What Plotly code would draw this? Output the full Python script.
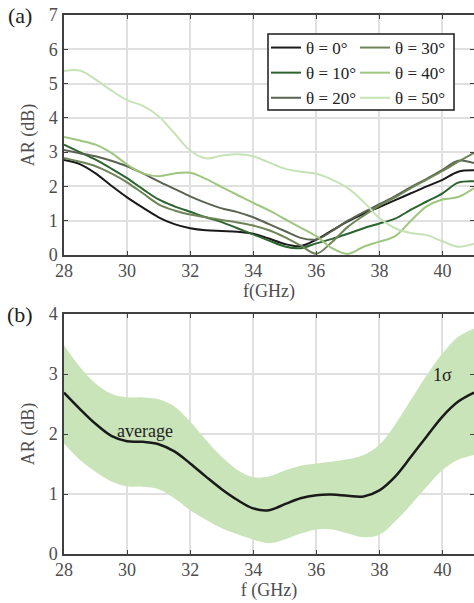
import plotly.graph_objects as go
from plotly.subplots import make_subplots

# ---------------- data ----------------
freq = [28, 28.5, 29, 29.5, 30, 30.5, 31, 31.5, 32, 32.5, 33, 33.5, 34, 34.5,
        35, 35.5, 36, 36.5, 37, 37.5, 38, 38.5, 39, 39.5, 40, 40.5, 41]

ar_0 = [2.77, 2.65, 2.38, 2.02, 1.68, 1.38, 1.10, 0.90, 0.78, 0.72, 0.70, 0.68, 0.62, 0.48,
        0.32, 0.26, 0.45, 0.72, 0.98, 1.20, 1.40, 1.60, 1.80, 2.00, 2.19, 2.43, 2.47]
ar_10 = [3.22, 3.00, 2.78, 2.52, 2.24, 1.92, 1.62, 1.42, 1.26, 1.10, 0.96, 0.78, 0.60, 0.42,
         0.25, 0.20, 0.34, 0.47, 0.62, 0.78, 0.92, 1.06, 1.32, 1.56, 1.80, 2.11, 2.15]
ar_20 = [3.06, 2.97, 2.88, 2.75, 2.59, 2.38, 2.15, 1.93, 1.71, 1.52, 1.36, 1.25, 1.10, 0.90,
         0.70, 0.50, 0.45, 0.70, 1.00, 1.25, 1.48, 1.72, 1.98, 2.22, 2.48, 2.75, 2.68]
ar_30 = [2.83, 2.72, 2.59, 2.38, 2.12, 1.80, 1.48, 1.30, 1.18, 1.10, 1.02, 0.95, 0.86, 0.72,
         0.52, 0.28, 0.04, 0.38, 0.82, 1.15, 1.44, 1.68, 1.95, 2.20, 2.45, 2.72, 2.98]
ar_40 = [3.44, 3.34, 3.22, 2.98, 2.64, 2.38, 2.30, 2.38, 2.40, 2.22, 1.98, 1.75, 1.52, 1.30,
         1.05, 0.80, 0.55, 0.20, 0.03, 0.24, 0.39, 0.55, 1.00, 1.42, 1.62, 1.69, 1.95]
ar_50 = [5.37, 5.38, 5.12, 4.80, 4.52, 4.35, 4.05, 3.55, 3.05, 2.82, 2.90, 2.94, 2.88, 2.70,
         2.52, 2.43, 2.37, 2.20, 1.95, 1.55, 1.08, 0.78, 0.64, 0.58, 0.40, 0.24, 0.33]

series_names = ["θ = 0°", "θ = 10°", "θ = 20°", "θ = 30°", "θ = 40°", "θ = 50°"]
series_vals = [ar_0, ar_10, ar_20, ar_30, ar_40, ar_50]
series_colors = ["#1a1a1a", "#2d6330", "#5a6450", "#6f8558", "#9dc67f", "#c6e3b5"]
series_legend = ["legend", "legend", "legend", "legend2", "legend2", "legend2"]

avg = [2.69, 2.42, 2.17, 1.97, 1.88, 1.87, 1.83, 1.71, 1.51, 1.29, 1.08, 0.90, 0.76, 0.73,
       0.83, 0.93, 0.98, 0.99, 0.97, 0.96, 1.06, 1.29, 1.62, 1.96, 2.29, 2.54, 2.69]
upper = [3.48, 3.12, 2.84, 2.67, 2.61, 2.61, 2.58, 2.46, 2.21, 1.90, 1.62, 1.40, 1.28, 1.29,
         1.39, 1.47, 1.51, 1.54, 1.58, 1.65, 1.82, 2.16, 2.57, 2.98, 3.34, 3.62, 3.76]
lower = [1.84, 1.57, 1.37, 1.21, 1.13, 1.12, 1.08, 0.93, 0.73, 0.57, 0.43, 0.33, 0.24, 0.18,
         0.24, 0.34, 0.41, 0.41, 0.34, 0.28, 0.32, 0.54, 0.82, 1.12, 1.40, 1.57, 1.65]

x_ticks = [28, 30, 32, 34, 36, 38, 40]
y_ticks_a = [0, 1, 2, 3, 4, 5, 6, 7]
y_ticks_b = [0, 1, 2, 3, 4]

# ---------------- figure ----------------
FONT = "Liberation Serif, Times New Roman, DejaVu Serif, serif"
W, H = 474, 603
mt, mb, ml, mr = 15, 49, 64, 0
ph = H - mt - mb
pw = W - ml - mr


def py(screen_y):
    return (H - mb - screen_y) / ph


def px(screen_x):
    return (screen_x - ml) / pw


top_bottom = py(255)
bot_top = py(314)

fig = make_subplots(rows=2, cols=1, vertical_spacing=0.0)

for name, vals, col, lg in zip(series_names, series_vals, series_colors, series_legend):
    fig.add_trace(go.Scatter(x=freq, y=vals, mode="lines", name=name, legend=lg,
                             line=dict(color=col, width=2, shape="spline", smoothing=1.0)),
                  row=1, col=1)

fig.add_trace(go.Scatter(x=freq, y=lower, mode="lines", line=dict(width=0, shape="spline"),
                         showlegend=False, hoverinfo="skip"), row=2, col=1)
fig.add_trace(go.Scatter(x=freq, y=upper, mode="lines", line=dict(width=0, shape="spline"),
                         fill="tonexty", fillcolor="#c8e4b8", showlegend=False,
                         hoverinfo="skip"), row=2, col=1)
fig.add_trace(go.Scatter(x=freq, y=avg, mode="lines",
                         line=dict(color="#1a1a1a", width=2.5, shape="spline"),
                         showlegend=False), row=2, col=1)

axis_common = dict(showline=True, linecolor="#404040", linewidth=1.5, mirror="ticks",
                   ticks="inside", ticklen=4, tickwidth=1, tickcolor="#404040",
                   showgrid=True, gridcolor="#e0e0e0", gridwidth=1.5, zeroline=False,
                   tickfont=dict(family=FONT, size=18, color="#4d4d4d"))
title_font = dict(family=FONT, size=18, color="#4d4d4d")

fig.update_xaxes(range=[28, 41], tickvals=x_ticks, ticklabelstandoff=-1, **axis_common)
fig.update_xaxes(title=dict(text="f(GHz)", font=title_font, standoff=0), row=1, col=1)
fig.update_xaxes(title=dict(text="f (GHz)", font=title_font, standoff=1), row=2, col=1)
fig.update_yaxes(ticklabelstandoff=1, **axis_common)
fig.update_yaxes(range=[0, 7], tickvals=y_ticks_a, row=1, col=1,
                 title=dict(text="AR (dB)", font=title_font, standoff=9))
fig.update_yaxes(range=[0, 4], tickvals=y_ticks_b, row=2, col=1,
                 title=dict(text="AR (dB)", font=title_font, standoff=9))

legend_common = dict(orientation="v", xanchor="left", yanchor="top", y=py(30),
                     bgcolor="rgba(0,0,0,0)", borderwidth=0, itemwidth=30,
                     tracegroupgap=0, traceorder="normal",
                     font=dict(family=FONT, size=17, color="#222222"))

fig.update_layout(
    width=W, height=H, autosize=False,
    margin=dict(t=mt, b=mb, l=ml, r=mr, autoexpand=False),
    plot_bgcolor="white", paper_bgcolor="white",
    font=dict(family=FONT, size=18, color="#222222"),
    yaxis=dict(domain=[top_bottom, 1.0]),
    yaxis2=dict(domain=[0.0, bot_top]),
    legend=dict(x=px(266), **legend_common),
    legend2=dict(x=px(355), **legend_common),
    showlegend=True,
)

# legend frame
fig.add_shape(type="rect", xref="paper", yref="paper",
              x0=px(268), x1=px(454), y0=py(110), y1=py(34),
              line=dict(color="#1a1a1a", width=1.5), fillcolor="white", layer="above")

fig.add_annotation(text="(a)", xref="paper", yref="paper", x=px(20), y=py(15),
                   xanchor="center", yanchor="middle", showarrow=False,
                   font=dict(family=FONT, size=22, color="#222222"))
fig.add_annotation(text="(b)", xref="paper", yref="paper", x=px(20), y=py(315),
                   xanchor="center", yanchor="middle", showarrow=False,
                   font=dict(family=FONT, size=22, color="#222222"))
fig.add_annotation(text="average", x=30.56, y=2.05, xref="x2", yref="y2", showarrow=False,
                   font=dict(family=FONT, size=18, color="#222222"))
fig.add_annotation(text="1σ", x=40.0, y=2.98, xref="x2", yref="y2", showarrow=False,
                   font=dict(family=FONT, size=18, color="#222222"))

fig.write_html("out.html", config={"displayModeBar": False},
               post_script="document.body.style.margin='0px';")
